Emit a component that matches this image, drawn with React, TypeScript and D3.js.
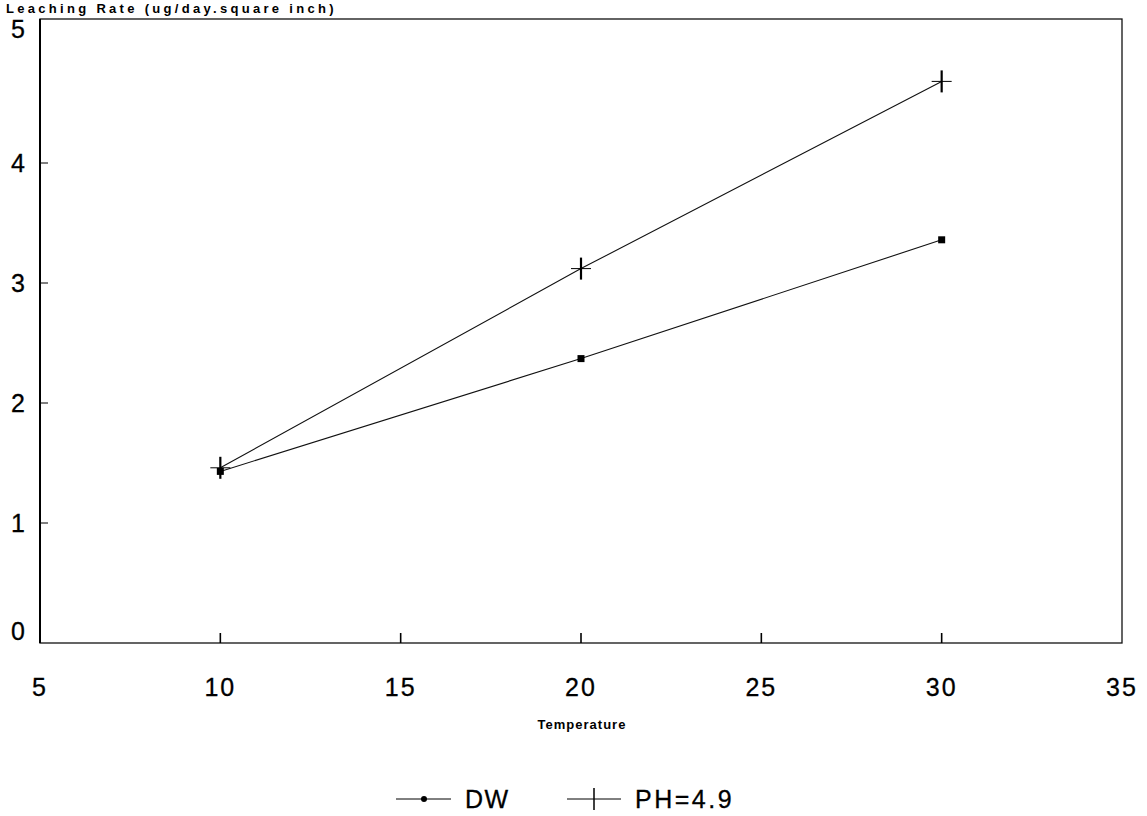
import React, { useEffect, useRef } from 'react';
import * as d3 from 'd3';

const temperatures = [10, 20, 30];
const dwValues = [1.43, 2.37, 3.36];
const phValues = [1.46, 3.12, 4.68];
const xTicks = [5, 10, 15, 20, 25, 30, 35];
const yTicks = [0, 1, 2, 3, 4];
const seriesNames = ['DW', 'PH=4.9'];

const App = () => {
  const ref = useRef(null);

  useEffect(() => {
    const width = 1147, height = 816;
    const left = 40, right = 1122, bottom = 643, top = 19;

    d3.select(ref.current).selectAll('*').remove();
    const svg = d3.select(ref.current)
      .append('svg')
      .attr('width', width)
      .attr('height', height)
      .style('display', 'block')
      .style('background', '#fff');

    const x = d3.scaleLinear().domain([5, 35]).range([left, right]);
    // one unit is 120px, the frame top sits a bit above 5
    const y = d3.scaleLinear().domain([0, 5]).range([bottom, bottom - 600]);

    // frame
    svg.append('rect')
      .attr('x', left).attr('y', top)
      .attr('width', right - left).attr('height', bottom - top)
      .attr('fill', 'none').attr('stroke', '#111').attr('stroke-width', 1.3);
    svg.append('line')
      .attr('x1', left).attr('x2', left).attr('y1', top).attr('y2', bottom)
      .attr('stroke', '#000').attr('stroke-width', 2);

    const font = 'Arial, "Liberation Sans", sans-serif';

    // x ticks (inside, upward)
    const xAxis = svg.append('g');
    xAxis.selectAll('line')
      .data(xTicks.slice(1, -1))
      .enter().append('line')
      .attr('x1', d => x(d)).attr('x2', d => x(d))
      .attr('y1', bottom).attr('y2', bottom - 10)
      .attr('stroke', '#000').attr('stroke-width', 1.6);
    xAxis.selectAll('text')
      .data(xTicks)
      .enter().append('text')
      .attr('x', d => x(d)).attr('y', 696)
      .attr('text-anchor', 'middle')
      .style('font-family', font).style('font-size', '25px')
      .style('letter-spacing', '2px')
      .attr('stroke', '#000').attr('stroke-width', 0.3)
      .text(d => d);

    // y ticks (inside, rightward)
    const yAxis = svg.append('g');
    yAxis.selectAll('line')
      .data(yTicks.slice(1))
      .enter().append('line')
      .attr('x1', left).attr('x2', left + 8)
      .attr('y1', d => y(d)).attr('y2', d => y(d))
      .attr('stroke', '#000').attr('stroke-width', 1);
    yAxis.selectAll('text')
      .data(yTicks)
      .enter().append('text')
      .attr('x', 18).attr('y', d => (d === 0 ? bottom - 12 : y(d)) + 9)
      .attr('text-anchor', 'middle')
      .style('font-family', font).style('font-size', '25px')
      .attr('stroke', '#000').attr('stroke-width', 0.3)
      .text(d => d);
    svg.append('text')
      .attr('x', 18).attr('y', 38)
      .attr('text-anchor', 'middle')
      .style('font-family', font).style('font-size', '25px')
      .attr('stroke', '#000').attr('stroke-width', 0.3)
      .text('5');

    // titles
    svg.append('text')
      .attr('x', 6).attr('y', 13)
      .style('font-family', font).style('font-size', '13px')
      .style('font-weight', 'bold').style('letter-spacing', '3.3px')
      .text('Leaching Rate (ug/day.square inch)');
    svg.append('text')
      .attr('x', 582).attr('y', 729)
      .attr('text-anchor', 'middle')
      .style('font-family', font).style('font-size', '13px')
      .style('font-weight', 'bold').style('letter-spacing', '1px')
      .text('Temperature');

    const line = d3.line().x(d => x(d[0])).y(d => y(d[1]));
    const dw = temperatures.map((t, i) => [t, dwValues[i]]);
    const ph = temperatures.map((t, i) => [t, phValues[i]]);

    [dw, ph].forEach(s => {
      svg.append('path')
        .attr('d', line(s))
        .attr('fill', 'none').attr('stroke', '#111').attr('stroke-width', 1.1);
    });

    const square = (g, cx, cy) => {
      g.append('rect')
        .attr('x', cx - 3.5).attr('y', cy - 3.5)
        .attr('width', 7).attr('height', 7).attr('fill', '#000');
    };
    const plus = (g, cx, cy) => {
      g.append('line')
        .attr('x1', cx).attr('x2', cx).attr('y1', cy - 11).attr('y2', cy + 11)
        .attr('stroke', '#000').attr('stroke-width', 2.2);
      g.append('line')
        .attr('x1', cx - 10).attr('x2', cx + 10).attr('y1', cy).attr('y2', cy)
        .attr('stroke', '#000').attr('stroke-width', 1);
    };

    dw.forEach(d => square(svg, x(d[0]), y(d[1])));
    ph.forEach(d => plus(svg, x(d[0]), y(d[1])));

    // legend
    const lg = svg.append('g');
    const ly = 799;
    lg.append('line').attr('x1', 396).attr('x2', 451).attr('y1', ly).attr('y2', ly)
      .attr('stroke', '#000').attr('stroke-width', 1);
    lg.append('circle').attr('cx', 424).attr('cy', ly).attr('r', 3).attr('fill', '#000');
    lg.append('line').attr('x1', 567).attr('x2', 621).attr('y1', ly).attr('y2', ly)
      .attr('stroke', '#000').attr('stroke-width', 1);
    lg.append('line').attr('x1', 594).attr('x2', 594).attr('y1', ly - 11).attr('y2', ly + 11)
      .attr('stroke', '#000').attr('stroke-width', 1.5);
    lg.selectAll('text')
      .data(seriesNames)
      .enter().append('text')
      .attr('x', (d, i) => (i === 0 ? 465 : 635)).attr('y', ly + 9)
      .style('font-family', font).style('font-size', '25px')
      .style('letter-spacing', (d, i) => (i === 0 ? '1.5px' : '2.5px'))
      .attr('stroke', '#000').attr('stroke-width', 0.3)
      .text(d => d);
  }, []);

  return <div ref={ref} style={{ position: 'absolute', left: 0, top: 0 }} />;
};

export default App;
